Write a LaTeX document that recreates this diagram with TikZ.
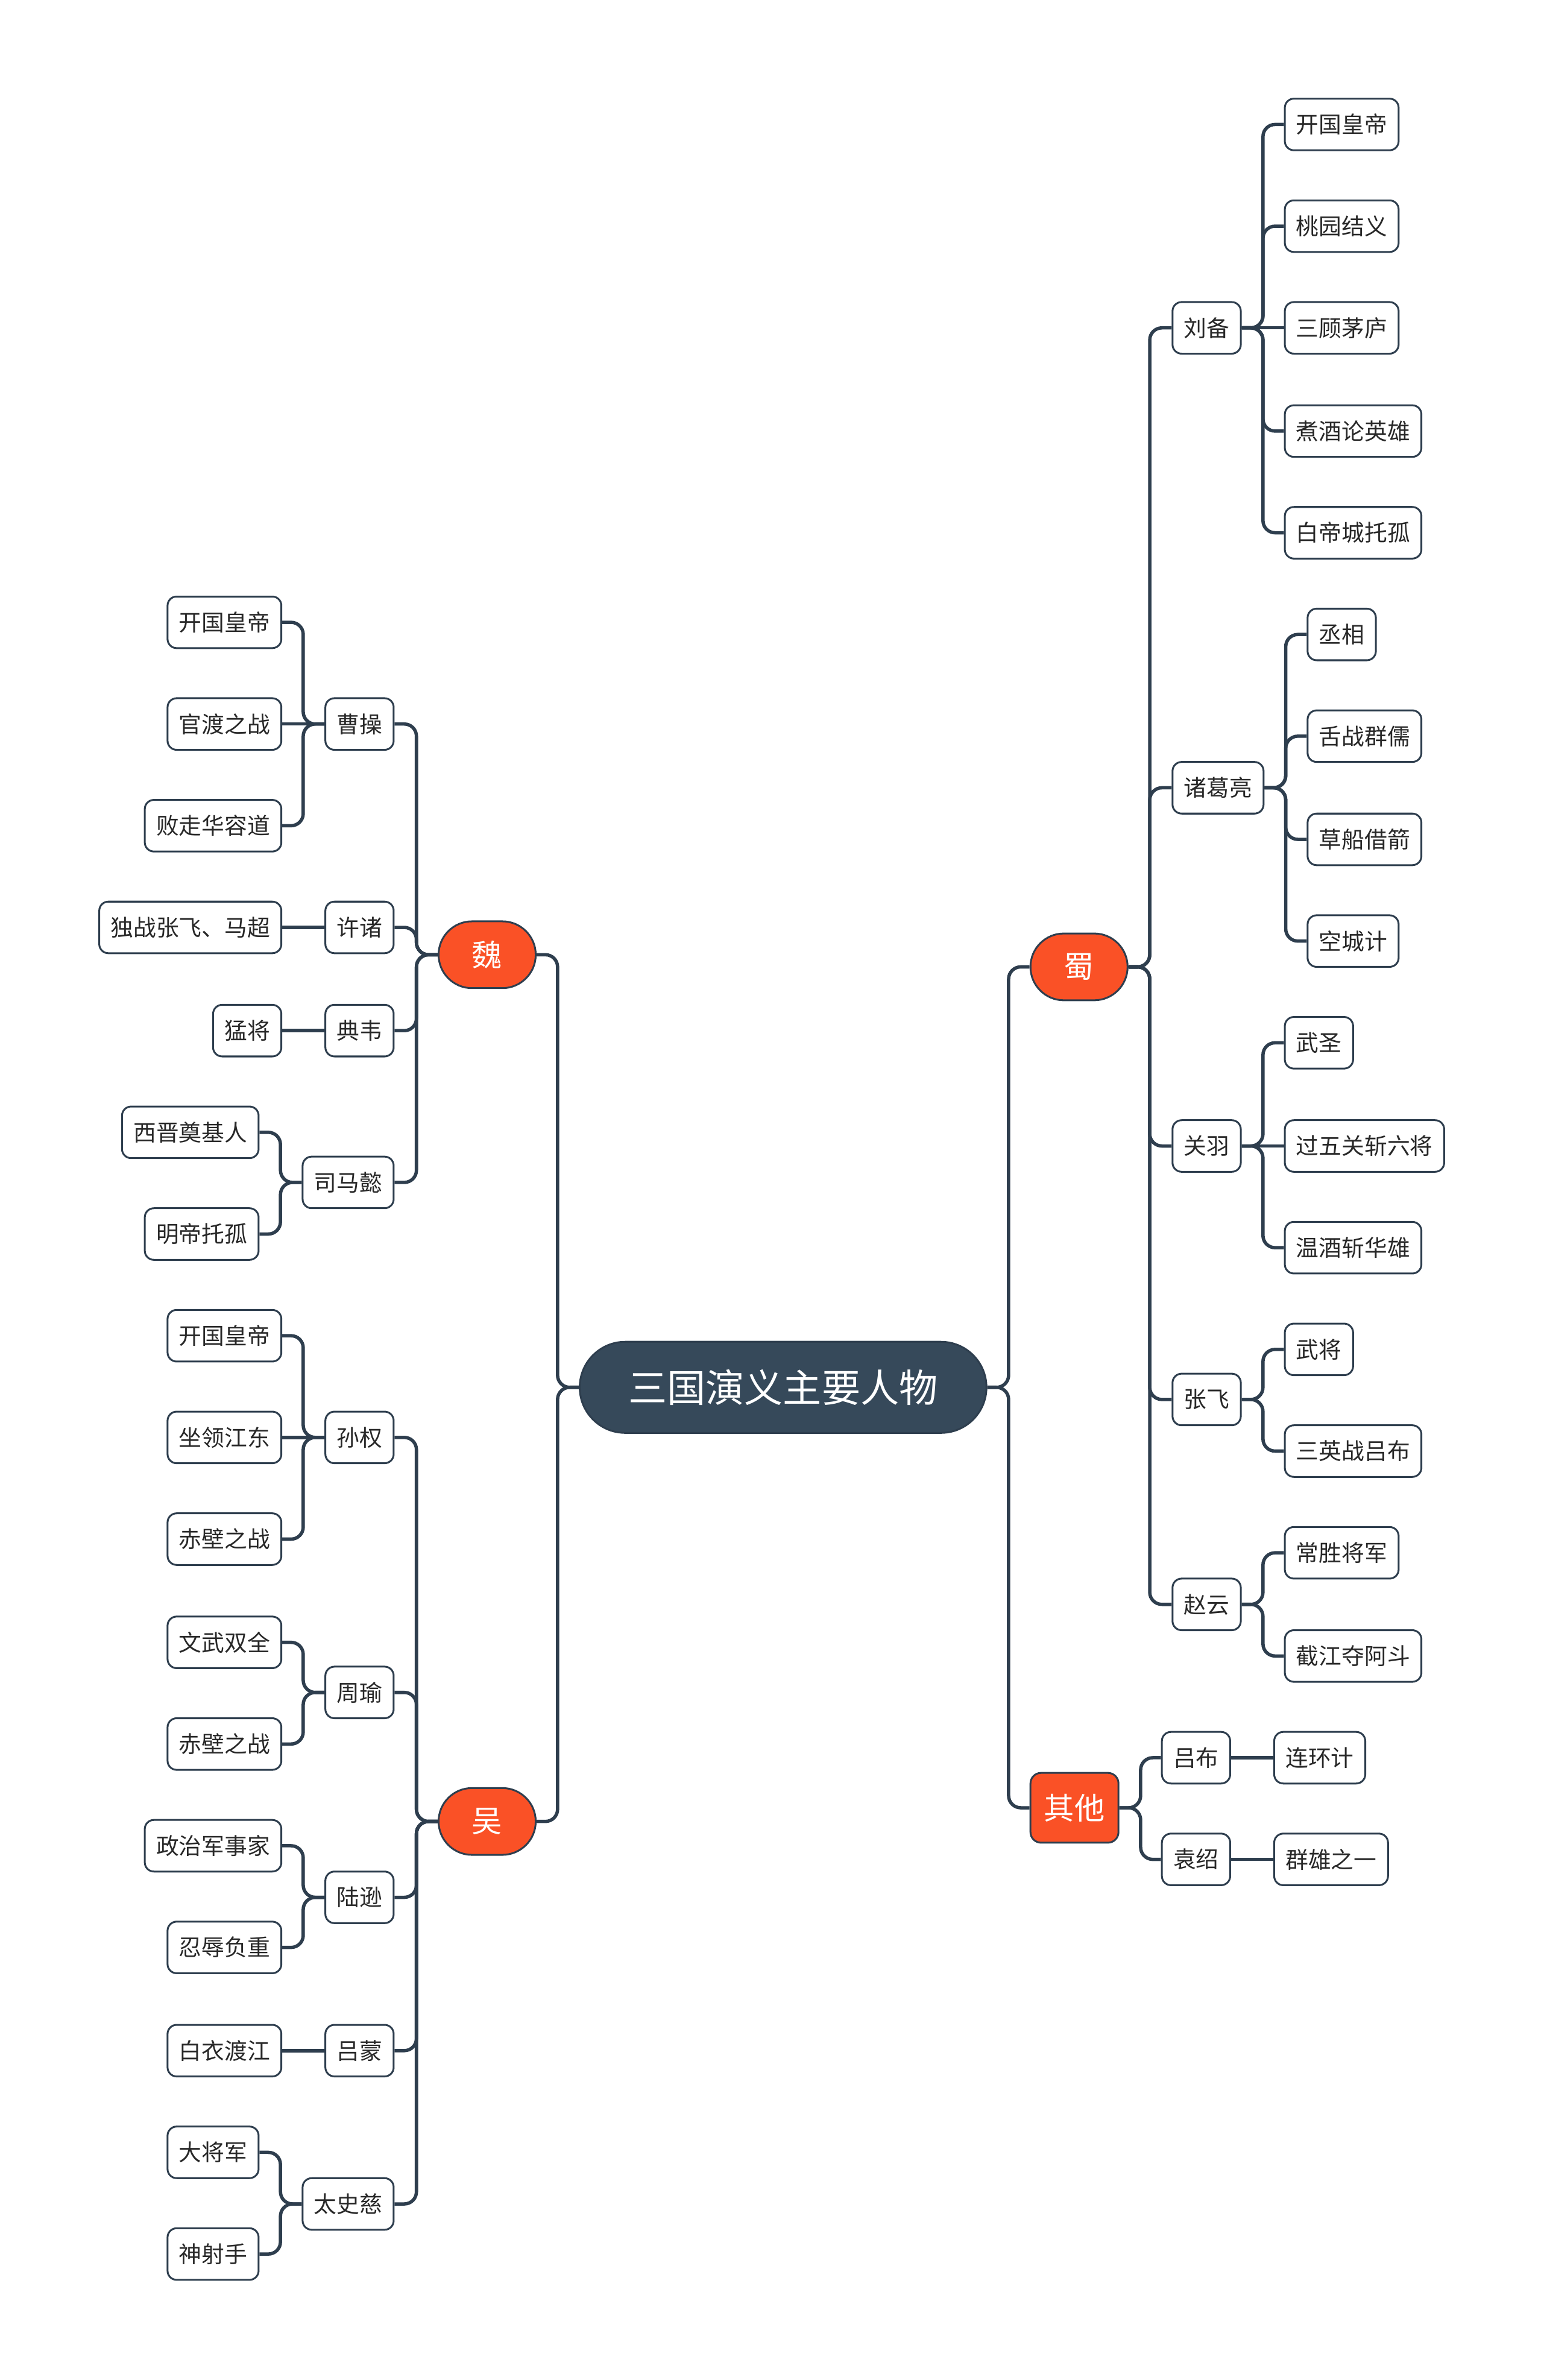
\documentclass[tikz,border=0pt]{standalone}
\usepackage{fontspec}
\setmainfont{Noto Sans CJK SC}
\usepackage{tikz}

\definecolor{ink}{RGB}{46,62,78}
\definecolor{rootfill}{RGB}{54,73,90}
\definecolor{kingdom}{RGB}{250,81,38}
\definecolor{txt}{RGB}{40,40,40}

\tikzset{
  link/.style={draw=ink, line width=2.2pt, rounded corners=8pt},
  rootbox/.style={fill=rootfill, draw=ink, line width=1.2pt, text=white, rounded corners=30pt,
    minimum height=60pt, inner xsep=32pt, font=\fontsize{25.5}{30}\selectfont},
  kingbox/.style={fill=kingdom, draw=ink, line width=1.2pt, text=white, rounded corners=22pt,
    minimum width=64pt, minimum height=44pt, inner sep=0pt, font=\fontsize{20}{24}\selectfont},
  otherbox/.style={fill=kingdom, draw=ink, line width=1.2pt, text=white, rounded corners=7pt,
    minimum width=58pt, minimum height=46pt, inner sep=0pt, font=\fontsize{20}{24}\selectfont},
  item/.style={fill=white, draw=ink, line width=1.2pt, text=txt, rounded corners=6pt,
    minimum height=34pt, inner xsep=7.5pt, inner ysep=0pt, font=\fontsize{15}{18}\selectfont},
}

\begin{document}
\begin{tikzpicture}[x=1pt, y=-1pt]
        \useasboundingbox (0,0) rectangle (1017,1568);

        % centre and kingdoms
        \node[rootbox] (root) at (516,914) {三国演义主要人物};
        \node[kingbox] (wei) at (321,629) {魏};
        \node[kingbox] (wu) at (321,1200) {吴};
        \node[kingbox] (shu) at (711,637) {蜀};
        \node[otherbox] (qita) at (708,1191) {其他};

        % wei
        \node[item, anchor=east] (caocao) at (260,477) {曹操};
        \node[item, anchor=east] (xuzhu) at (260,611) {许诸};
        \node[item, anchor=east] (dianwei) at (260,679) {典韦};
        \node[item, anchor=east] (simayi) at (260,779) {司马懿};
        \node[item, anchor=east] (cc1) at (186,410) {开国皇帝};
        \node[item, anchor=east] (cc2) at (186,477) {官渡之战};
        \node[item, anchor=east] (cc3) at (186,544) {败走华容道};
        \node[item, anchor=east] (xz1) at (186,611) {独战张飞、马超};
        \node[item, anchor=east] (dw1) at (186,679) {猛将};
        \node[item, anchor=east] (smy1) at (171,746) {西晋奠基人};
        \node[item, anchor=east] (smy2) at (171,813) {明帝托孤};

        % wu
        \node[item, anchor=east] (sunquan) at (260,947) {孙权};
        \node[item, anchor=east] (zhouyu) at (260,1115) {周瑜};
        \node[item, anchor=east] (luxun) at (260,1250) {陆逊};
        \node[item, anchor=east] (lvmeng) at (260,1351) {吕蒙};
        \node[item, anchor=east] (taishici) at (260,1452) {太史慈};
        \node[item, anchor=east] (sq1) at (186,880) {开国皇帝};
        \node[item, anchor=east] (sq2) at (186,947) {坐领江东};
        \node[item, anchor=east] (sq3) at (186,1014) {赤壁之战};
        \node[item, anchor=east] (zy1) at (186,1082) {文武双全};
        \node[item, anchor=east] (zy2) at (186,1149) {赤壁之战};
        \node[item, anchor=east] (lx1) at (186,1216) {政治军事家};
        \node[item, anchor=east] (lx2) at (186,1283) {忍辱负重};
        \node[item, anchor=east] (lm1) at (186,1351) {白衣渡江};
        \node[item, anchor=east] (tsc1) at (171,1418) {大将军};
        \node[item, anchor=east] (tsc2) at (171,1485) {神射手};

        % shu
        \node[item, anchor=west] (liubei) at (772,216) {刘备};
        \node[item, anchor=west] (zhuge) at (772,519) {诸葛亮};
        \node[item, anchor=west] (guanyu) at (772,755) {关羽};
        \node[item, anchor=west] (zhangfei) at (772,922) {张飞};
        \node[item, anchor=west] (zhaoyun) at (772,1057) {赵云};
        \node[item, anchor=west] (lb1) at (846,82) {开国皇帝};
        \node[item, anchor=west] (lb2) at (846,149) {桃园结义};
        \node[item, anchor=west] (lb3) at (846,216) {三顾茅庐};
        \node[item, anchor=west] (lb4) at (846,284) {煮酒论英雄};
        \node[item, anchor=west] (lb5) at (846,351) {白帝城托孤};
        \node[item, anchor=west] (zg1) at (861,418) {丞相};
        \node[item, anchor=west] (zg2) at (861,485) {舌战群儒};
        \node[item, anchor=west] (zg3) at (861,553) {草船借箭};
        \node[item, anchor=west] (zg4) at (861,620) {空城计};
        \node[item, anchor=west] (gy1) at (846,687) {武圣};
        \node[item, anchor=west] (gy2) at (846,755) {过五关斩六将};
        \node[item, anchor=west] (gy3) at (846,822) {温酒斩华雄};
        \node[item, anchor=west] (zf1) at (846,889) {武将};
        \node[item, anchor=west] (zf2) at (846,956) {三英战吕布};
        \node[item, anchor=west] (zyn1) at (846,1023) {常胜将军};
        \node[item, anchor=west] (zyn2) at (846,1091) {截江夺阿斗};

        % others
        \node[item, anchor=west] (lvbu) at (765,1158) {吕布};
        \node[item, anchor=west] (yuanshao) at (765,1225) {袁绍};
        \node[item, anchor=west] (lvb1) at (839,1158) {连环计};
        \node[item, anchor=west] (ys1) at (839,1225) {群雄之一};

        % links to the left
        \foreach \p/\c in {root/wei, root/wu, wei/caocao, wei/xuzhu, wei/dianwei, wei/simayi,
            caocao/cc1, caocao/cc3, simayi/smy1, simayi/smy2,
            wu/sunquan, wu/zhouyu, wu/luxun, wu/lvmeng, wu/taishici,
            sunquan/sq1, sunquan/sq3, zhouyu/zy1, zhouyu/zy2, luxun/lx1, luxun/lx2,
            taishici/tsc1, taishici/tsc2}
          \draw[link] (\p.west) -- ++(-14,0) |- (\c.east);
        \foreach \p/\c in {caocao/cc2, xuzhu/xz1, dianwei/dw1, sunquan/sq2, lvmeng/lm1}
          \draw[link] (\p.west) -- (\c.east);

        % links to the right
        \foreach \p/\c in {root/shu, root/qita, shu/liubei, shu/zhuge, shu/guanyu, shu/zhangfei, shu/zhaoyun,
            liubei/lb1, liubei/lb2, liubei/lb4, liubei/lb5,
            zhuge/zg1, zhuge/zg2, zhuge/zg3, zhuge/zg4,
            guanyu/gy1, guanyu/gy3, zhangfei/zf1, zhangfei/zf2, zhaoyun/zyn1, zhaoyun/zyn2,
            qita/lvbu, qita/yuanshao}
          \draw[link] (\p.east) -- ++(14,0) |- (\c.west);
        \foreach \p/\c in {liubei/lb3, guanyu/gy2, lvbu/lvb1, yuanshao/ys1}
          \draw[link] (\p.east) -- (\c.west);
\end{tikzpicture}
\end{document}
